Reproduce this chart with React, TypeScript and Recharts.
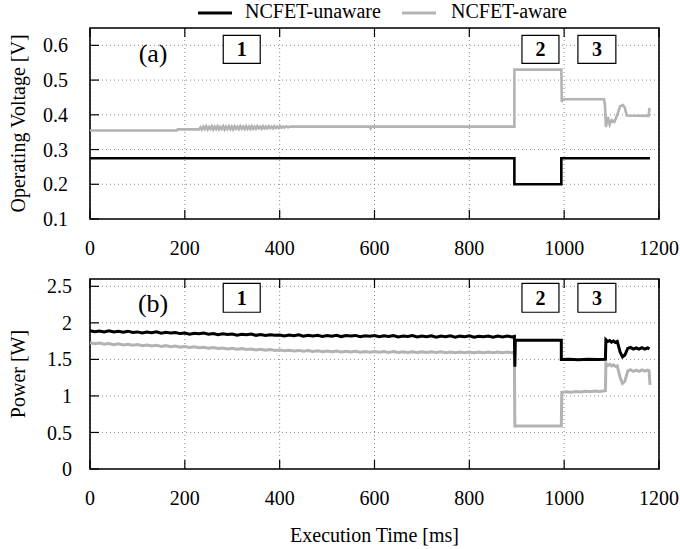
import { LineChart, Line, XAxis, YAxis, CartesianGrid, ReferenceArea, ReferenceDot } from "recharts";

const FONT = '"Liberation Serif", "Times New Roman", Times, serif';
const BLACK = "#000000";
const GRAY = "#b3b3b3";

const seriesNames = ["NCFET-unaware", "NCFET-aware"];
const timeTicks = [0, 200, 400, 600, 800, 1000, 1200];
const voltageTicks = [0.1, 0.2, 0.3, 0.4, 0.5, 0.6];
const powerTicks = [0, 0.5, 1, 1.5, 2, 2.5];
const phaseNames = ["1", "2", "3"];

// [time ms, value]
const voltageUnaware = [
  [0, 0.275], [895, 0.275], [895, 0.2], [994, 0.2], [994, 0.275], [1181, 0.275],
];

const voltageAware = [
  [0, 0.355], [183, 0.355], [185, 0.358], [230, 0.358], [233, 0.364], [236, 0.358],
  [239, 0.366], [242, 0.359], [245, 0.367], [248, 0.358], [251, 0.365], [254, 0.359],
  [257, 0.367], [260, 0.358], [263, 0.366], [266, 0.359], [269, 0.367], [272, 0.358],
  [275, 0.365], [278, 0.359], [281, 0.367], [284, 0.358], [287, 0.366], [290, 0.359],
  [293, 0.367], [296, 0.359], [299, 0.366], [302, 0.358], [305, 0.367], [308, 0.36],
  [311, 0.366], [314, 0.359], [317, 0.367], [320, 0.36], [323, 0.366], [326, 0.359],
  [329, 0.367], [332, 0.36], [335, 0.366], [338, 0.359], [341, 0.367], [344, 0.36],
  [347, 0.366], [350, 0.36], [353, 0.367], [356, 0.361], [359, 0.366], [362, 0.36],
  [365, 0.367], [368, 0.361], [371, 0.366], [374, 0.361], [377, 0.367], [380, 0.362],
  [383, 0.366], [386, 0.361], [389, 0.367], [392, 0.362], [395, 0.366], [398, 0.362],
  [401, 0.367], [404, 0.363], [407, 0.366], [410, 0.363], [414, 0.367], [418, 0.364],
  [422, 0.366], [590, 0.366], [592, 0.361], [594, 0.366], [895, 0.366], [895, 0.53],
  [994, 0.53], [995, 0.437], [997, 0.445], [1084, 0.445], [1086, 0.43], [1088, 0.365],
  [1092, 0.394], [1096, 0.372], [1100, 0.385], [1106, 0.38], [1112, 0.4], [1118, 0.425],
  [1124, 0.428], [1128, 0.42], [1132, 0.398], [1178, 0.397], [1180, 0.42],
];

const powerUnaware = [
  [0, 1.893], [10, 1.879], [20, 1.888], [30, 1.876], [40, 1.89], [50, 1.874], [60, 1.884],
  [70, 1.871], [80, 1.886], [90, 1.868], [100, 1.876], [110, 1.862], [120, 1.874],
  [130, 1.866], [140, 1.878], [150, 1.858], [160, 1.87], [170, 1.861], [180, 1.868],
  [190, 1.853], [200, 1.862], [210, 1.846], [220, 1.858], [230, 1.85], [240, 1.86],
  [250, 1.843], [260, 1.855], [270, 1.839], [280, 1.851], [290, 1.842], [300, 1.846],
  [310, 1.832], [320, 1.844], [330, 1.836], [340, 1.848], [350, 1.829], [360, 1.84],
  [370, 1.826], [380, 1.838], [390, 1.83], [400, 1.834], [410, 1.82], [420, 1.832],
  [430, 1.824], [440, 1.836], [450, 1.817], [460, 1.83], [470, 1.821], [480, 1.829],
  [490, 1.815], [500, 1.828], [510, 1.818], [520, 1.83], [530, 1.812], [540, 1.826],
  [550, 1.819], [560, 1.828], [570, 1.81], [580, 1.824], [590, 1.816], [600, 1.826],
  [610, 1.809], [620, 1.822], [630, 1.814], [640, 1.827], [650, 1.808], [660, 1.82],
  [670, 1.812], [680, 1.825], [690, 1.806], [700, 1.821], [710, 1.811], [720, 1.824],
  [730, 1.805], [740, 1.819], [750, 1.81], [760, 1.823], [770, 1.804], [780, 1.818],
  [790, 1.809], [800, 1.822], [810, 1.803], [820, 1.817], [830, 1.81], [840, 1.821],
  [850, 1.804], [860, 1.818], [870, 1.807], [880, 1.82], [890, 1.806], [895, 1.815],
  [896, 1.4], [897, 1.762], [994, 1.762], [994, 1.498], [1010, 1.503], [1030, 1.496],
  [1050, 1.502], [1070, 1.497], [1087, 1.5], [1088, 1.77], [1092, 1.745], [1096, 1.758],
  [1100, 1.736], [1104, 1.752], [1108, 1.732], [1112, 1.745], [1118, 1.6], [1123, 1.535],
  [1128, 1.56], [1134, 1.65], [1140, 1.664], [1146, 1.642], [1152, 1.658], [1158, 1.64],
  [1164, 1.66], [1170, 1.642], [1176, 1.658], [1180, 1.645],
];

const powerAware = [
  [0, 1.727], [10, 1.713], [20, 1.723], [30, 1.708], [40, 1.717], [50, 1.702], [60, 1.712],
  [70, 1.697], [80, 1.708], [90, 1.693], [100, 1.702], [110, 1.688], [120, 1.697],
  [130, 1.683], [140, 1.693], [150, 1.678], [160, 1.688], [170, 1.673], [180, 1.683],
  [190, 1.668], [200, 1.677], [210, 1.663], [220, 1.672], [230, 1.658], [240, 1.667],
  [250, 1.652], [260, 1.662], [270, 1.648], [280, 1.657], [290, 1.643], [300, 1.652],
  [310, 1.638], [320, 1.647], [330, 1.634], [340, 1.643], [350, 1.629], [360, 1.638],
  [370, 1.625], [380, 1.634], [390, 1.621], [400, 1.629], [410, 1.617], [420, 1.626],
  [430, 1.614], [440, 1.623], [450, 1.611], [460, 1.62], [470, 1.608], [480, 1.617],
  [490, 1.606], [500, 1.616], [510, 1.604], [520, 1.613], [530, 1.602], [540, 1.612],
  [550, 1.601], [560, 1.611], [570, 1.599], [580, 1.609], [590, 1.598], [600, 1.608],
  [610, 1.597], [620, 1.607], [630, 1.596], [640, 1.606], [650, 1.595], [660, 1.605],
  [670, 1.595], [680, 1.604], [690, 1.594], [700, 1.604], [710, 1.593], [720, 1.603],
  [730, 1.593], [740, 1.603], [750, 1.592], [760, 1.602], [770, 1.592], [780, 1.602],
  [790, 1.591], [800, 1.601], [810, 1.591], [820, 1.601], [830, 1.59], [840, 1.6],
  [850, 1.59], [860, 1.6], [870, 1.59], [880, 1.6], [890, 1.59], [895, 1.598],
  [896, 0.59], [994, 0.59], [995, 1.05], [1005, 1.058], [1015, 1.052], [1025, 1.06],
  [1035, 1.055], [1045, 1.063], [1055, 1.058], [1065, 1.067], [1075, 1.062], [1087, 1.072],
  [1088, 1.44], [1092, 1.418], [1096, 1.432], [1100, 1.41], [1104, 1.425], [1108, 1.405],
  [1112, 1.412], [1118, 1.25], [1123, 1.17], [1128, 1.2], [1134, 1.34], [1140, 1.358],
  [1146, 1.335], [1152, 1.352], [1158, 1.336], [1164, 1.355], [1170, 1.338], [1176, 1.354],
  [1179, 1.345], [1181, 1.15],
];

// annotation boxes: time span of each phase label
const phaseFrom = [281, 911, 1029];
const phaseTo = [359, 989, 1109];

const toPoints = (rows: number[][]) => rows.map(([t, v]) => ({ t, v }));

const X_MARGIN = 22;
const TICK_LEN = 9;

function makeXTick(plotH: number) {
  return (props: any) => {
    const { x, y, payload } = props;
    const axisY = y - X_MARGIN;
    return (
      <g>
        <line x1={x} x2={x} y1={axisY} y2={axisY - TICK_LEN} stroke={BLACK} strokeWidth={1.2} />
        <line x1={x} x2={x} y1={axisY - plotH} y2={axisY - plotH + TICK_LEN} stroke={BLACK} strokeWidth={1.2} />
        <text x={x} y={y} dy="0.71em" textAnchor="middle" fontSize={20} fontFamily={FONT} fill={BLACK}>
          {payload.value}
        </text>
      </g>
    );
  };
}

function makeYTick(fmt: (v: number) => string, margin: number) {
  return (props: any) => {
    const { x, y, payload } = props;
    const axisX = x + margin;
    return (
      <g>
        <line x1={axisX} x2={axisX + TICK_LEN} y1={y} y2={y} stroke={BLACK} strokeWidth={1.2} />
        <text x={x} y={y} dy="0.355em" textAnchor="end" fontSize={20} fontFamily={FONT} fill={BLACK}>
          {fmt(payload.value)}
        </text>
      </g>
    );
  };
}

function Panel(props: {
  height: number;
  top: number;
  xAxisHeight: number;
  domain: [number, number];
  ticks: number[];
  fmt: (v: number) => string;
  yMargin: number;
  yLabel: string;
  tag: string;
  tagY: number;
  boxY: [number, number];
  unaware: number[][];
  aware: number[][];
  xLabel?: string;
  lineWidth: number;
}) {
  const plotH = props.height - props.top - props.xAxisHeight;
  return (
    <LineChart
      width={680}
      height={props.height}
      margin={{ top: props.top, right: 21, bottom: 0, left: 0 }}
    >
      <CartesianGrid stroke="#8c8c8c" strokeDasharray="1 3" />
      <XAxis
        dataKey="t"
        type="number"
        domain={[0, 1200]}
        ticks={timeTicks}
        interval={0}
        allowDuplicatedCategory
        height={props.xAxisHeight}
        axisLine={false}
        tickLine={false}
        tickSize={0}
        tickMargin={X_MARGIN}
        tick={makeXTick(plotH)}
        label={
          props.xLabel
            ? { value: props.xLabel, position: "insideBottom", offset: 7, fontSize: 20, fontFamily: FONT, fill: BLACK }
            : undefined
        }
      />
      <YAxis
        type="number"
        domain={props.domain}
        ticks={props.ticks}
        interval={0}
        width={90}
        axisLine={false}
        tickLine={false}
        tickSize={0}
        tickMargin={props.yMargin}
        tick={makeYTick(props.fmt, props.yMargin)}
        label={{
          value: props.yLabel,
          angle: -90,
          position: "insideLeft",
          offset: 18,
          fontSize: 20,
          fontFamily: FONT,
          fill: BLACK,
          style: { textAnchor: "middle" },
        }}
      />
      {phaseNames.map((name, i) => (
        <ReferenceArea
          key={name}
          x1={phaseFrom[i]}
          x2={phaseTo[i]}
          y1={props.boxY[0]}
          y2={props.boxY[1]}
          fill="#ffffff"
          fillOpacity={1}
          stroke={BLACK}
          strokeWidth={1.2}
          label={{ value: name, position: "center", fontSize: 20, fontWeight: "bold", fontFamily: FONT, fill: BLACK }}
        />
      ))}
      <ReferenceDot
        x={133}
        y={props.tagY}
        r={0}
        fill="none"
        stroke="none"
        label={{ value: props.tag, position: "center", fontSize: 26, fontFamily: FONT, fill: BLACK }}
      />
      <Line
        data={toPoints(props.aware)}
        dataKey="v"
        name={seriesNames[1]}
        type="linear"
        stroke={GRAY}
        strokeWidth={props.lineWidth}
        dot={false}
        isAnimationActive={false}
      />
      <Line
        data={toPoints(props.unaware)}
        dataKey="v"
        name={seriesNames[0]}
        type="linear"
        stroke={BLACK}
        strokeWidth={props.lineWidth}
        dot={false}
        isAnimationActive={false}
      />
      <ReferenceArea
        x1={0}
        x2={1200}
        y1={props.domain[0]}
        y2={props.domain[1]}
        fill="none"
        stroke={BLACK}
        strokeWidth={1.6}
      />
    </LineChart>
  );
}

function LegendBar() {
  return (
    <svg width={680} height={24} style={{ position: "absolute", left: 0, top: 0 }}>
      <line x1={198} x2={232} y1={13} y2={13} stroke={BLACK} strokeWidth={3} />
      <text x={245} y={18} fontSize={20} fontFamily={FONT} fill={BLACK}>{seriesNames[0]}</text>
      <line x1={402} x2={436} y1={13} y2={13} stroke={GRAY} strokeWidth={3} />
      <text x={451} y={18} fontSize={20} fontFamily={FONT} fill={BLACK}>{seriesNames[1]}</text>
    </svg>
  );
}

export default function App() {
  return (
    <div style={{ position: "absolute", left: 0, top: 0, width: 680, height: 549, background: "#fff", fontFamily: FONT }}>
      <div style={{ position: "absolute", left: 0, top: 0 }}>
        <Panel
          height={260}
          top={28}
          xAxisHeight={41}
          domain={[0.1, 0.65]}
          ticks={voltageTicks}
          fmt={(v) => v.toFixed(1)}
          yMargin={22}
          yLabel="Operating Voltage [V]"
          tag="(a)"
          tagY={0.58}
          boxY={[0.548, 0.629]}
          unaware={voltageUnaware}
          aware={voltageAware}
          lineWidth={2.6}
        />
      </div>
      <div style={{ position: "absolute", left: 0, top: 260 }}>
        <Panel
          height={289}
          top={19}
          xAxisHeight={80}
          domain={[0, 2.6]}
          ticks={powerTicks}
          fmt={(v) => String(v)}
          yMargin={18}
          yLabel="Power [W]"
          tag="(b)"
          tagY={2.27}
          boxY={[2.145, 2.541]}
          unaware={powerUnaware}
          aware={powerAware}
          xLabel="Execution Time [ms]"
          lineWidth={3}
        />
      </div>
      <LegendBar />
    </div>
  );
}
